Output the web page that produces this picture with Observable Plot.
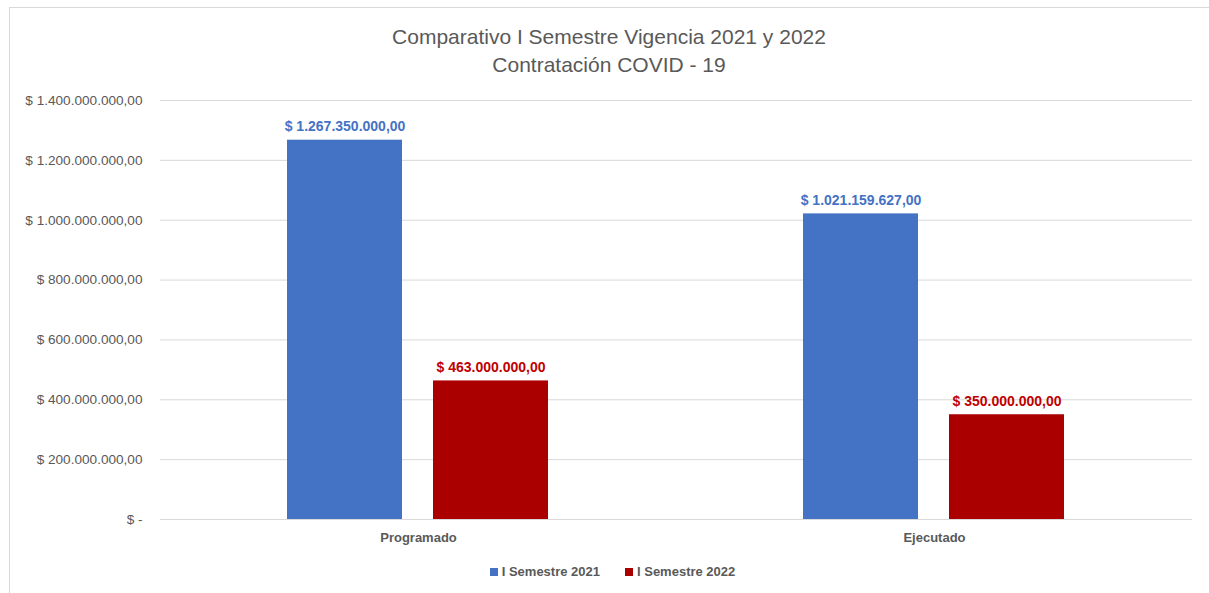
<!DOCTYPE html>
<html>
<head>
<meta charset="utf-8">
<script src="https://cdn.jsdelivr.net/npm/d3@7"></script>
<script src="https://cdn.jsdelivr.net/npm/@observablehq/plot@0.6"></script>
<style>
  html, body { margin: 0; padding: 0; background: #fff; }
  #wrap { position: relative; width: 1209px; height: 593px; overflow: hidden; font-family: "Liberation Sans", Arial, sans-serif; }
  #frame { position: absolute; left: 9px; top: 7px; width: 1300px; height: 700px; border-left: 1px solid #d9d9d9; border-top: 1px solid #d9d9d9; }
  #title { position: absolute; left: 0; top: 23px; width: 1218px; text-align: center; color: #595959; font-size: 21px; line-height: 28px; }
  #legend { position: absolute; left: 0; top: 564px; width: 1209px; display: flex; justify-content: center; gap: 25px; padding-left: 16px; box-sizing: border-box; color: #595959; font-size: 13px; font-weight: bold; }
  #legend span.item { display: flex; align-items: center; }
  #legend span.sw { display: inline-block; width: 8px; height: 8px; margin-right: 4px; }
  #chart { position: absolute; left: 0; top: 0; }
</style>
</head>
<body>
<div id="wrap">
  <div id="frame"></div>
  <div id="chart"></div>
  <div id="title">Comparativo I Semestre Vigencia 2021 y 2022<br>Contratación COVID - 19</div>
  <div id="legend"></div>
</div>
<script>
const categories = ["Programado", "Ejecutado"];
const series = ["I Semestre 2021", "I Semestre 2022"];
const values2021 = [1267350000, 1021159627];
const values2022 = [463000000, 350000000];
const yTicks = [0, 200000000, 400000000, 600000000, 800000000, 1000000000, 1200000000, 1400000000];
const barColors = ["#4472C4", "#AA0000"];
const labelColors = ["#4472C4", "#C00000"];

const data = [];
categories.forEach((c, i) => {
  data.push({cat: c, serie: series[0], value: values2021[i]});
  data.push({cat: c, serie: series[1], value: values2022[i]});
});

const fmtNum = d3.formatLocale({decimal: ",", thousands: ".", grouping: [3], currency: ["$ ", ""]}).format(",.2f");
const fmtMoney = v => v === 0 ? "$ -" : "$ " + fmtNum(v);

const chart = Plot.plot({
  width: 1209,
  height: 593,
  marginTop: 100,
  marginBottom: 74,
  marginLeft: 160,
  marginRight: 17,
  style: {fontFamily: "'Liberation Sans', Arial, sans-serif", background: "transparent"},
  fx: {domain: categories, padding: 0, label: null, axis: null},
  x: {domain: series, paddingInner: 0.212, paddingOuter: 0.87, axis: null},
  y: {domain: [0, 1400000000], ticks: yTicks, label: null, axis: null},
  color: {domain: series, range: barColors},
  marks: [
    Plot.gridY(yTicks, {stroke: "#d9d9d9", strokeOpacity: 1, strokeWidth: 1}),
    Plot.axisY(yTicks, {tickSize: 0, tickPadding: 18, tickFormat: fmtMoney, fill: "#595959", fontSize: 13.6, label: null}),
    Plot.barY(data, {fx: "cat", x: "serie", y: "value", fill: "serie"}),
    Plot.text(data, {fx: "cat", x: "serie", y: "value", text: d => fmtMoney(d.value),
      fill: d => labelColors[series.indexOf(d.serie)], fontWeight: "bold", fontSize: 14,
      lineAnchor: "bottom", dy: -9}),
    Plot.axisFx({anchor: "bottom", tickSize: 0, tickPadding: 13, label: null,
      fill: "#595959", fontWeight: "bold", fontSize: 13})
  ]
});
document.getElementById("chart").appendChild(chart);

const legend = document.getElementById("legend");
series.forEach((s, i) => {
  const item = document.createElement("span");
  item.className = "item";
  const sw = document.createElement("span");
  sw.className = "sw";
  sw.style.background = barColors[i];
  item.appendChild(sw);
  item.appendChild(document.createTextNode(s));
  legend.appendChild(item);
});
</script>
</body>
</html>
